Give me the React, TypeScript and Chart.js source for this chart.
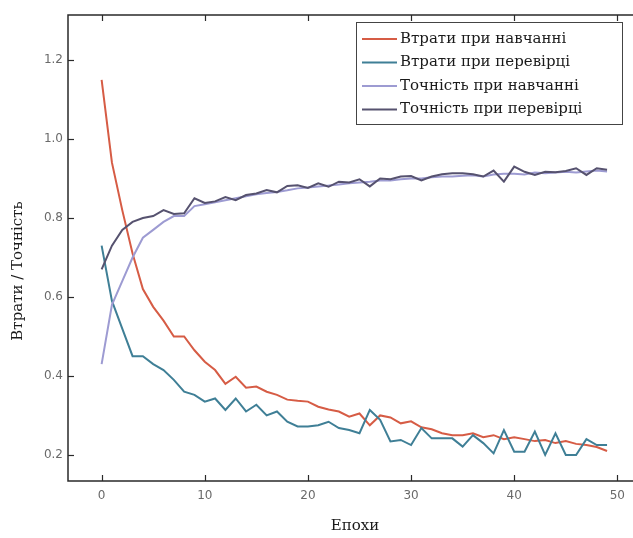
import React, { useEffect, useRef } from 'react';
import { Chart, registerables } from 'chart.js';

Chart.register(...registerables);

const epochs = [
  0, 1, 2, 3, 4, 5, 6, 7, 8, 9,
  10, 11, 12, 13, 14, 15, 16, 17, 18, 19,
  20, 21, 22, 23, 24, 25, 26, 27, 28, 29,
  30, 31, 32, 33, 34, 35, 36, 37, 38, 39,
  40, 41, 42, 43, 44, 45, 46, 47, 48, 49,
];

const trainLoss = [
  1.15, 0.94, 0.82, 0.71, 0.62, 0.575, 0.54, 0.5, 0.5, 0.465,
  0.436, 0.415, 0.38, 0.398, 0.37, 0.373, 0.36, 0.352, 0.34, 0.337,
  0.335, 0.322, 0.315, 0.31, 0.297, 0.305, 0.275, 0.3, 0.295, 0.28,
  0.285, 0.27, 0.265, 0.255, 0.25, 0.25, 0.255, 0.245, 0.25, 0.24,
  0.245, 0.24, 0.235, 0.238, 0.23, 0.235, 0.228, 0.225, 0.22, 0.21,
];

const valLoss = [
  0.73, 0.59, 0.52, 0.45, 0.45, 0.43, 0.415, 0.39, 0.36, 0.352,
  0.335, 0.343, 0.314, 0.343, 0.31, 0.327, 0.3, 0.31, 0.284, 0.272,
  0.272, 0.275, 0.284, 0.268, 0.263, 0.255, 0.314, 0.289, 0.234, 0.238,
  0.225, 0.268, 0.242, 0.242, 0.242, 0.221, 0.25, 0.23, 0.204, 0.263,
  0.208, 0.208, 0.259, 0.2, 0.255, 0.2, 0.2, 0.24, 0.225, 0.225,
];

const trainAcc = [
  0.43, 0.58, 0.64, 0.7, 0.75, 0.77, 0.79, 0.805, 0.805, 0.83,
  0.835, 0.84, 0.845, 0.85, 0.855, 0.86, 0.863, 0.866, 0.87, 0.875,
  0.877, 0.88, 0.882, 0.885, 0.888, 0.89, 0.892, 0.895, 0.895, 0.898,
  0.9, 0.9, 0.903, 0.905, 0.905, 0.907, 0.908, 0.905, 0.91, 0.912,
  0.912, 0.91, 0.915, 0.913, 0.915, 0.917, 0.915, 0.918, 0.92, 0.918,
];

const valAcc = [
  0.67, 0.73, 0.77, 0.79, 0.8, 0.805, 0.82, 0.81, 0.812, 0.85,
  0.838, 0.842, 0.853, 0.845, 0.858, 0.862, 0.871, 0.865, 0.881, 0.883,
  0.876, 0.888, 0.879, 0.892, 0.89, 0.898, 0.88, 0.9, 0.898, 0.905,
  0.906, 0.895, 0.905, 0.911, 0.913, 0.913, 0.911, 0.905, 0.92, 0.892,
  0.93, 0.917, 0.909, 0.917, 0.916, 0.919, 0.926, 0.909, 0.926, 0.922,
];

const seriesLabels = [
  'Втрати при навчанні',
  'Втрати при перевірці',
  'Точність при навчанні',
  'Точність при перевірці',
];
const seriesColors = ['#d65c45', '#3f7f96', '#9d9bd2', '#56526f'];

const xTicks = [0, 10, 20, 30, 40, 50];
const yTicks = [0.2, 0.4, 0.6, 0.8, 1.0, 1.2];

const xTitle = 'Епохи';
const yTitle = 'Втрати / Точність';

const framePlugin = {
  id: 'frameAndTicks',
  afterDatasetsDraw(chart: any) {
    const { ctx, chartArea: a, scales } = chart;
    ctx.save();
    ctx.strokeStyle = '#2a2a2a';
    ctx.lineWidth = 1.5;
    ctx.beginPath();
    ctx.moveTo(chart.width, a.top);
    ctx.lineTo(a.left, a.top);
    ctx.lineTo(a.left, a.bottom);
    ctx.lineTo(chart.width, a.bottom);
    ctx.stroke();
    ctx.lineWidth = 1.2;
    const tl = 6;
    for (const v of xTicks) {
      const px = Math.round(scales.x.getPixelForValue(v)) + 0.5;
      ctx.beginPath();
      ctx.moveTo(px, a.bottom);
      ctx.lineTo(px, a.bottom - tl);
      ctx.moveTo(px, a.top);
      ctx.lineTo(px, a.top + tl);
      ctx.stroke();
    }
    for (const v of yTicks) {
      const py = Math.round(scales.y.getPixelForValue(v)) + 0.5;
      ctx.beginPath();
      ctx.moveTo(a.left, py);
      ctx.lineTo(a.left + tl, py);
      ctx.stroke();
    }
    ctx.restore();
  },
  afterDraw(chart: any) {
    const { ctx } = chart;
    ctx.save();
    ctx.fillStyle = '#1a1a1a';
    ctx.font = '15px "DejaVu Serif"';
    ctx.textAlign = 'center';
    ctx.textBaseline = 'middle';
    ctx.fillText(xTitle, 355, 526);
    ctx.translate(18, 271);
    ctx.rotate(-Math.PI / 2);
    ctx.fillText(yTitle, 0, 0);
    ctx.restore();

    ctx.save();
    const bx = 356.5, by = 22.5, bw = 266, bh = 102;
    ctx.fillStyle = '#ffffff';
    ctx.fillRect(bx, by, bw, bh);
    ctx.strokeStyle = '#444444';
    ctx.lineWidth = 1;
    ctx.strokeRect(bx, by, bw, bh);
    ctx.font = '15px "DejaVu Serif"';
    ctx.textAlign = 'left';
    ctx.textBaseline = 'middle';
    chart.data.datasets.forEach((ds: any, i: number) => {
      const cy = 39 + i * 23.5;
      ctx.strokeStyle = ds.borderColor;
      ctx.lineWidth = 2;
      ctx.beginPath();
      ctx.moveTo(362, cy);
      ctx.lineTo(397, cy);
      ctx.stroke();
      ctx.fillStyle = '#1a1a1a';
      ctx.fillText(ds.label, 400, cy);
    });
    ctx.restore();
  },
};

export default function App() {
  const ref = useRef<HTMLCanvasElement | null>(null);
  useEffect(() => {
    document.body.style.margin = '0';
    const canvas = ref.current;
    if (!canvas) return;
    const series = [trainLoss, valLoss, trainAcc, valAcc];
    const chart = new Chart(canvas, {
      type: 'line',
      data: {
        datasets: series.map((arr, i) => ({
          label: seriesLabels[i],
          data: epochs.map((e, j) => ({ x: e, y: arr[j] })),
          borderColor: seriesColors[i],
          backgroundColor: seriesColors[i],
          borderWidth: 2,
          pointRadius: 0,
          tension: 0,
          order: 3 - i,
        })),
      },
      options: {
        animation: false,
        responsive: false,
        maintainAspectRatio: false,
        layout: { padding: { top: 15, left: 0, right: 0, bottom: 0 } },
        plugins: {
          legend: { display: false },
          tooltip: { enabled: false },
        },
        scales: {
          x: {
            type: 'linear',
            min: -3.26,
            max: 51.33,
            afterBuildTicks: (s: any) => {
              s.ticks = xTicks.map((v) => ({ value: v }));
            },
            afterFit: (s: any) => {
              s.height = 57;
            },
            grid: { display: false, drawTicks: false },
            border: { display: false },
            ticks: {
              color: '#6a6a6a',
              font: { family: 'DejaVu Sans', size: 12 },
              padding: 8,
              maxRotation: 0,
              callback: (v: any) => String(v),
            },
          },
          y: {
            type: 'linear',
            min: 0.134,
            max: 1.314,
            afterBuildTicks: (s: any) => {
              s.ticks = yTicks.map((v) => ({ value: v }));
            },
            afterFit: (s: any) => {
              s.width = 68;
            },
            grid: { display: false, drawTicks: false },
            border: { display: false },
            ticks: {
              color: '#6a6a6a',
              font: { family: 'DejaVu Sans', size: 12 },
              padding: 5,
              callback: (v: any) => Number(v).toFixed(1),
            },
          },
        },
      },
      plugins: [framePlugin],
    });
    return () => chart.destroy();
  }, []);
  return (
    <div style={{ width: 633, height: 538, background: '#fff' }}>
      <canvas ref={ref} width={633} height={538} style={{ display: 'block' }} />
    </div>
  );
}
